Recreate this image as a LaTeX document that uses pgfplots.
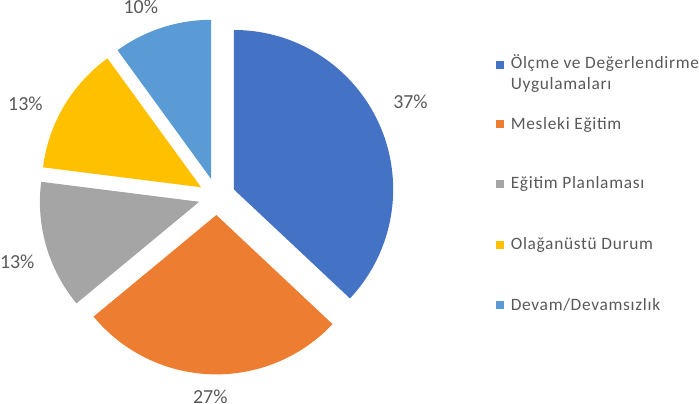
\documentclass[border=0pt]{standalone}
\usepackage{pgfplots}
\pgfplotsset{compat=1.18}
\usepackage{pgfplotstable}
\usetikzlibrary{calc}
\usepackage{fontspec}
\setmainfont{Carlito}
\newfontfamily\legfont[LetterSpace=4]{Carlito}
\definecolor{sA}{HTML}{4472C4}
\definecolor{sB}{HTML}{ED7D31}
\definecolor{sC}{HTML}{A5A5A5}
\definecolor{sD}{HTML}{FFC000}
\definecolor{sE}{HTML}{5B9BD5}
\definecolor{txt}{HTML}{595959}

\pgfplotstableread{
idx value
0 37
1 27
2 13
3 13
4 10
}\piedata

\newcommand\slice[4]{%
  \fill[#4] ($(axis cs:217.5,212.5)+(#3:18pt)$) -- ++(#1:156pt)
    arc[start angle=#1, end angle=#2, radius=156pt] -- cycle;
}

\begin{document}
\pgfplotstablegetelem{0}{value}\of\piedata \edef\vA{\pgfplotsretval}%
\pgfplotstablegetelem{1}{value}\of\piedata \edef\vB{\pgfplotsretval}%
\pgfplotstablegetelem{2}{value}\of\piedata \edef\vC{\pgfplotsretval}%
\pgfplotstablegetelem{3}{value}\of\piedata \edef\vD{\pgfplotsretval}%
\pgfplotstablegetelem{4}{value}\of\piedata \edef\vE{\pgfplotsretval}%
\pgfmathsetmacro\aA{90}%
\pgfmathsetmacro\aB{\aA-3.6*\vA}%
\pgfmathsetmacro\aC{\aB-3.6*\vB}%
\pgfmathsetmacro\aD{\aC-3.6*\vC}%
\pgfmathsetmacro\aE{\aD-3.6*\vD}%
\pgfmathsetmacro\aF{\aE-3.6*\vE}%
\pgfmathsetmacro\mA{(\aA+\aB)/2}%
\pgfmathsetmacro\mB{(\aB+\aC)/2}%
\pgfmathsetmacro\mC{(\aC+\aD)/2}%
\pgfmathsetmacro\mD{(\aD+\aE)/2}%
\pgfmathsetmacro\mE{(\aE+\aF)/2}%
\begin{tikzpicture}
\begin{axis}[width=699pt,height=410pt,scale only axis,
  xmin=0,xmax=699,ymin=0,ymax=410,hide axis,clip=false]
\slice{\aA}{\aB}{\mA}{sA}
\slice{\aB}{\aC}{\mB}{sB}
\slice{\aC}{\aD}{\mC}{sC}
\slice{\aD}{\aE}{\mD}{sD}
\slice{\aE}{\aF}{\mE}{sE}
% legend markers
\addplot[only marks, mark=square*, mark size=3.3pt, color=sA] coordinates {(494.5,341.5)};
\addplot[only marks, mark=square*, mark size=3.3pt, color=sB] coordinates {(494.5,284)};
\addplot[only marks, mark=square*, mark size=3.3pt, color=sC] coordinates {(494.5,225.5)};
\addplot[only marks, mark=square*, mark size=3.3pt, color=sD] coordinates {(494.5,165.5)};
\addplot[only marks, mark=square*, mark size=3.3pt, color=sE] coordinates {(494.5,107)};
\begin{scope}[every node/.style={anchor=base west, inner sep=0pt, text=txt,
    font=\legfont\fontsize{17}{18}\selectfont}]
\node at (axis cs:505,338) {Ölçme ve Değerlendirme};
\node at (axis cs:505,317) {Uygulamaları};
\node at (axis cs:505,278) {Mesleki Eğitim};
\node at (axis cs:505,220) {Eğitim Planlaması};
\node at (axis cs:505,160.7) {Olağanüstü Durum};
\node at (axis cs:505,101) {Devam/Devamsızlık};
\end{scope}
\begin{scope}[every node/.style={anchor=base, inner sep=0pt, text=txt,
    font=\fontsize{19.5}{21}\selectfont}]
\node at (axis cs:407,298.3) {\vA\%};
\node at (axis cs:211,10) {\vB\%};
\node at (axis cs:22,142) {\vC\%};
\node at (axis cs:30,297) {\vD\%};
\node at (axis cs:143,391.7) {\vE\%};
\end{scope}
\end{axis}
\end{tikzpicture}
\end{document}
